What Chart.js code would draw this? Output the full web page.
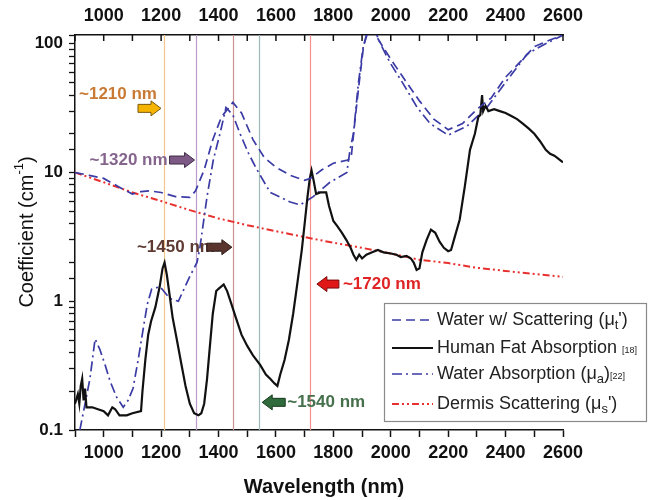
<!DOCTYPE html>
<html lang="en">
<head>
<meta charset="UTF-8">
<title>Coefficient vs Wavelength</title>
<script src="https://cdn.jsdelivr.net/npm/chart.js"></script>
<style>
    html, body { margin: 0; padding: 0; background: #fff; }
    #wrap { width: 648px; height: 500px; }
</style>
</head>
<body>
<div id="wrap"><canvas id="coefChart" width="648" height="500"></canvas></div>
<script>
// values: wavelength (nm) and coefficient (cm^-1)
const waterScatWl  = [900, 950, 1000, 1050, 1100, 1130, 1160, 1200, 1250, 1300, 1320, 1350, 1380, 1410, 1450, 1480, 1520, 1560, 1600, 1650, 1700, 1720, 1760, 1800, 1850, 1862, 1875, 1890, 1905, 1915, 1935, 1960, 2000, 2050, 2100, 2150, 2200, 2250, 2300, 2350, 2400, 2450, 2500, 2550, 2600];
const waterScatVal = [10, 9.5, 9.0, 7.8, 6.8, 7.1, 7.2, 7.0, 6.5, 6.4, 7.2, 10.5, 18, 27, 35, 29, 18, 13, 11, 9.5, 8.7, 9.0, 10.5, 11.8, 12.5, 13, 25, 50, 95, 117, 130, 105, 76, 52, 36, 26, 21.5, 24, 31, 38, 55, 72, 95, 106, 117];

const waterAbsWl  = [905, 917, 935, 952, 970, 987, 1005, 1022, 1045, 1068, 1085, 1102, 1120, 1137, 1152, 1167, 1196, 1230, 1260, 1300, 1325, 1335, 1360, 1382, 1405, 1426, 1450, 1475, 1505, 1533, 1580, 1650, 1684, 1730, 1788, 1847, 1858, 1870, 1887, 1904, 1917, 1940, 1963, 1998, 2043, 2092, 2137, 2200, 2266, 2335, 2405, 2475, 2520, 2580, 2600];
const waterAbsVal = [0.07, 0.1, 0.16, 0.25, 0.51, 0.42, 0.32, 0.24, 0.18, 0.15, 0.17, 0.21, 0.35, 0.6, 0.95, 1.24, 1.3, 1.05, 1.0, 1.56, 2.0, 2.6, 6.5, 12.6, 20, 32, 28, 20, 14, 10.6, 7, 5.9, 5.6, 6.5, 8.4, 10, 15, 20, 49, 95, 117, 135, 101, 71, 49, 32, 24, 19.5, 23, 32, 52, 83, 95, 111, 117];

const fatWl  = [900, 910, 915, 920, 925, 930, 935, 940, 960, 980, 1000, 1015, 1030, 1040, 1055, 1080, 1100, 1130, 1135, 1145, 1155, 1165, 1180, 1195, 1205, 1212, 1220, 1230, 1240, 1255, 1270, 1285, 1300, 1315, 1330, 1340, 1350, 1360, 1370, 1380, 1392, 1400, 1418, 1430, 1445, 1460, 1480, 1500, 1520, 1545, 1565, 1580, 1595, 1605, 1615, 1630, 1645, 1660, 1675, 1690, 1700, 1710, 1718, 1724, 1732, 1740, 1755, 1775, 1785, 1800, 1815, 1830, 1845, 1860, 1870, 1880, 1890, 1900, 1915, 1935, 1955, 1975, 2000, 2020, 2035, 2055, 2070, 2080, 2090, 2100, 2110, 2125, 2140, 2155, 2170, 2185, 2200, 2210, 2220, 2240, 2258, 2276, 2293, 2305, 2312, 2318, 2322, 2330, 2340, 2360, 2380, 2400, 2420, 2440, 2460, 2480, 2500, 2520, 2540, 2555, 2570, 2590, 2600];
const fatVal = [0.16, 0.19, 0.16, 0.22, 0.25, 0.17, 0.21, 0.15, 0.15, 0.145, 0.14, 0.13, 0.15, 0.145, 0.13, 0.13, 0.135, 0.14, 0.2, 0.35, 0.55, 0.7, 0.9, 1.3, 1.8, 2.0, 1.6, 1.1, 0.75, 0.5, 0.33, 0.22, 0.16, 0.135, 0.13, 0.135, 0.16, 0.25, 0.45, 0.8, 1.2, 1.25, 1.35, 1.2, 0.95, 0.75, 0.55, 0.45, 0.38, 0.32, 0.27, 0.25, 0.23, 0.22, 0.27, 0.35, 0.5, 0.8, 1.4, 2.5, 4.0, 6.5, 9.0, 10.4, 8.5, 6.8, 7.0, 7.0, 5.5, 4.2, 3.8, 3.4, 3.0, 2.6, 2.3, 2.1, 2.3, 2.15, 2.3, 2.4, 2.5, 2.4, 2.35, 2.3, 2.2, 2.25, 2.15, 2.0, 1.75, 1.8, 2.4, 3.0, 3.6, 3.4, 2.9, 2.6, 2.45, 2.5, 3.0, 4.3, 7.8, 15, 20, 27, 28, 40, 30, 33, 30, 31, 30, 29, 27.5, 26, 24, 22, 20, 17.5, 15, 14, 13.5, 12.5, 12];

const dermisWl  = [900, 1000, 1100, 1200, 1300, 1400, 1500, 1600, 1700, 1800, 1900, 2000, 2100, 2200, 2300, 2400, 2500, 2600];
const dermisVal = [10, 8.4, 7.0, 6.0, 5.1, 4.4, 3.9, 3.5, 3.15, 2.85, 2.6, 2.35, 2.1, 1.98, 1.82, 1.72, 1.63, 1.55];

const xTickLabels = [1000, 1200, 1400, 1600, 1800, 2000, 2200, 2400, 2600];
const yTickLabels = [0.1, 1, 10, 100];

const markerWl   = [1210, 1320, 1450, 1540, 1720];
const markerText = ['~1210 nm', '~1320 nm', '~1450 nm', '~1540 nm', '~1720 nm'];

// styling for the marker lines, arrows and their labels
const markerStyle = [
    { line: '#F2C68C', text: '#C97A35', fill: '#F5B400', edge: '#7a5a10', dir: 1,  tipDx: -3, len: 23, y: 31.5, textY: 40.6, textDx: -4 },
    { line: '#BB9CCB', text: '#85658D', fill: '#7C5A85', edge: '#3e2a44', dir: 1,  tipDx: -1, len: 25, y: 12.5, textY: 12.5, textDx: -27 },
    { line: '#C99290', text: '#5E3A33', fill: '#5A3530', edge: '#2e1a16', dir: 1,  tipDx: -1, len: 25, y: 2.63, textY: 2.63, textDx: -17 },
    { line: '#9DB9B5', text: '#46704C', fill: '#2F6B3C', edge: '#173a1e', dir: -1, tipDx: 3.5, len: 23, y: 0.164, textY: 0.164, textDx: 25 },
    { line: '#F39090', text: '#E02424', fill: '#E01818', edge: '#7a0a0a', dir: -1, tipDx: 6.5, len: 22, y: 1.36, textY: 1.36, textDx: 26 }
];

const pts = (xs, ys) => xs.map((x, i) => ({ x: x, y: ys[i] }));
const FONT = '"Liberation Sans", Arial, sans-serif';
const BLUE = '#3B3BA6';
const RED = '#E8302E';

function drawArrow(ctx, tipX, tailX, y, fill, edge) {
    const dir = Math.sign(tipX - tailX);
    const headX = tipX - dir * 10;
    ctx.beginPath();
    ctx.moveTo(tailX, y - 4);
    ctx.lineTo(headX, y - 4);
    ctx.lineTo(headX, y - 7.5);
    ctx.lineTo(tipX, y);
    ctx.lineTo(headX, y + 7.5);
    ctx.lineTo(headX, y + 4);
    ctx.lineTo(tailX, y + 4);
    ctx.closePath();
    ctx.fillStyle = fill;
    ctx.fill();
    ctx.strokeStyle = edge;
    ctx.lineWidth = 1;
    ctx.setLineDash([]);
    ctx.stroke();
}

// text pieces with optional sub/superscript
function drawRich(ctx, parts, x, y) {
    let cx = x;
    parts.forEach(p => {
        ctx.font = p.font;
        ctx.fillText(p.t, cx, y + (p.dy || 0));
        cx += ctx.measureText(p.t).width;
    });
    return cx - x;
}

const markerPlugin = {
    id: 'markers',
    beforeDatasetsDraw(chart) {
        const { ctx, chartArea, scales } = chart;
        ctx.save();
        markerWl.forEach((wl, i) => {
            const px = Math.round(scales.x.getPixelForValue(wl)) + 0.5;
            ctx.strokeStyle = markerStyle[i].line;
            ctx.lineWidth = 1.2;
            ctx.beginPath();
            ctx.moveTo(px, chartArea.top);
            ctx.lineTo(px, chartArea.bottom);
            ctx.stroke();
        });
        ctx.restore();
    },
    afterDraw(chart) {
        const { ctx, chartArea, scales } = chart;
        ctx.save();

        // inward ticks on the top axis
        ctx.strokeStyle = '#111';
        ctx.lineWidth = 1.5;
        scales.x2.ticks.forEach(t => {
            const px = scales.x2.getPixelForValue(t.value);
            ctx.beginPath();
            ctx.moveTo(px, chartArea.top);
            ctx.lineTo(px, chartArea.top + 6);
            ctx.stroke();
        });

        // arrows + labels
        ctx.textBaseline = 'middle';
        markerWl.forEach((wl, i) => {
            const s = markerStyle[i];
            const tip = scales.x.getPixelForValue(wl) + s.tipDx;
            const tail = tip - s.dir * s.len;
            const ay = scales.y.getPixelForValue(s.y);
            const ty = scales.y.getPixelForValue(s.textY);
            ctx.font = 'bold 17px ' + FONT;
            ctx.fillStyle = s.text;
            ctx.textAlign = s.dir > 0 ? 'right' : 'left';
            ctx.fillText(markerText[i], tip + s.textDx, ty);
            drawArrow(ctx, tip, tail, ay, s.fill, s.edge);
        });

        // axis titles
        ctx.fillStyle = '#111';
        ctx.textAlign = 'center';
        ctx.font = 'bold 20px ' + FONT;
        ctx.fillText('Wavelength (nm)', (chartArea.left + chartArea.right) / 2 + 5, 487);

        ctx.save();
        ctx.translate(27, 232);
        ctx.rotate(-Math.PI / 2);
        ctx.textAlign = 'left';
        const yParts = [
            { t: 'Coefficient (cm', font: '20px ' + FONT },
            { t: '-1', font: '13px ' + FONT, dy: -8 },
            { t: ')', font: '20px ' + FONT }
        ];
        let w = 0;
        yParts.forEach(p => { ctx.font = p.font; w += ctx.measureText(p.t).width; });
        drawRich(ctx, yParts, -w / 2, 0);
        ctx.restore();

        // legend box
        const lx = 384, ly = 303, lw = 263, lh = 119;
        ctx.fillStyle = '#fff';
        ctx.fillRect(lx, ly, lw, lh);
        ctx.strokeStyle = '#8a8a8a';
        ctx.lineWidth = 1.2;
        ctx.strokeRect(lx + 0.5, ly + 0.5, lw - 1, lh - 1);

        ctx.textAlign = 'left';
        ctx.textBaseline = 'middle';
        const main = '18px ' + FONT, sub = '13px ' + FONT, tiny = '9px ' + FONT;
        const rows = [
            { y: 320, ds: 0, parts: [{ t: "Water w/ Scattering (\u03bc", font: main }, { t: 't', font: sub, dy: 5 }, { t: "')", font: main }] },
            { y: 348, ds: 1, parts: [{ t: 'Human Fat Absorption ', font: main }, { t: '[18]', font: tiny, dy: 3 }] },
            { y: 374, ds: 2, parts: [{ t: 'Water Absorption (\u03bc', font: main }, { t: 'a', font: sub, dy: 5 }, { t: ')', font: main }, { t: '[22]', font: tiny, dy: 3 }] },
            { y: 404, ds: 3, parts: [{ t: "Dermis Scattering (\u03bc", font: main }, { t: 's', font: sub, dy: 5 }, { t: "')", font: main }] }
        ];
        rows.forEach(r => {
            const d = chart.data.datasets[r.ds];
            ctx.strokeStyle = d.borderColor;
            ctx.lineWidth = d.borderWidth;
            ctx.setLineDash(d.borderDash || []);
            ctx.beginPath();
            ctx.moveTo(392, r.y);
            ctx.lineTo(433, r.y);
            ctx.stroke();
            ctx.setLineDash([]);
            ctx.fillStyle = '#222';
            drawRich(ctx, r.parts, 437, r.y);
        });
        ctx.restore();
    }
};

const tickFont = { family: FONT, size: 18, weight: 'bold' };

new Chart(document.getElementById('coefChart'), {
    type: 'line',
    data: {
        datasets: [
            { label: "Water w/ Scattering (\u03bct')", data: pts(waterScatWl, waterScatVal), borderColor: BLUE, borderWidth: 1.7, borderDash: [9, 5] },
            { label: 'Human Fat Absorption [18]', data: pts(fatWl, fatVal), borderColor: '#111', borderWidth: 2.2 },
            { label: 'Water Absorption (\u03bca)[22]', data: pts(waterAbsWl, waterAbsVal), borderColor: BLUE, borderWidth: 1.7, borderDash: [10, 4, 2, 4] },
            { label: "Dermis Scattering (\u03bcs')", data: pts(dermisWl, dermisVal), borderColor: RED, borderWidth: 2, borderDash: [7, 3, 2, 3, 2, 3] }
        ]
    },
    options: {
        responsive: false,
        animation: false,
        events: [],
        layout: { padding: { left: 0, right: 85, top: 0, bottom: 0 } },
        elements: { point: { radius: 0 }, line: { tension: 0, fill: false } },
        plugins: { legend: { display: false }, tooltip: { enabled: false } },
        scales: {
            x: {
                type: 'linear', position: 'bottom', min: 900, max: 2600,
                afterFit: s => { s.height = 70; },
                border: { display: true, color: '#111', width: 1.5 },
                grid: { drawOnChartArea: false, drawTicks: true, tickLength: 7, tickColor: '#111', tickWidth: 1.5 },
                ticks: {
                    stepSize: 100, autoSkip: false, maxRotation: 0, padding: 5, color: '#111', font: tickFont,
                    callback: v => xTickLabels.includes(v) ? String(v) : ''
                }
            },
            x2: {
                type: 'linear', position: 'top', min: 900, max: 2600,
                afterFit: s => { s.height = 35; },
                border: { display: true, color: '#111', width: 1.5 },
                grid: { drawOnChartArea: false, drawTicks: false },
                ticks: {
                    stepSize: 100, autoSkip: false, maxRotation: 0, padding: 8, color: '#111', font: tickFont,
                    callback: v => xTickLabels.includes(v) ? String(v) : ''
                }
            },
            y: {
                type: 'logarithmic', min: 0.1, max: 117,
                afterFit: s => { s.width = 75; },
                border: { display: true, color: '#111', width: 1.5 },
                grid: { drawOnChartArea: false, drawTicks: true, tickLength: 6, tickColor: '#111', tickWidth: 1.3 },
                ticks: {
                    autoSkip: false, padding: 6, color: '#111', font: { family: FONT, size: 17, weight: 'bold' },
                    callback: v => yTickLabels.includes(Number(v.toPrecision(3))) ? String(Number(v.toPrecision(3))) : ''
                }
            }
        }
    },
    plugins: [markerPlugin]
});
</script>
</body>
</html>
